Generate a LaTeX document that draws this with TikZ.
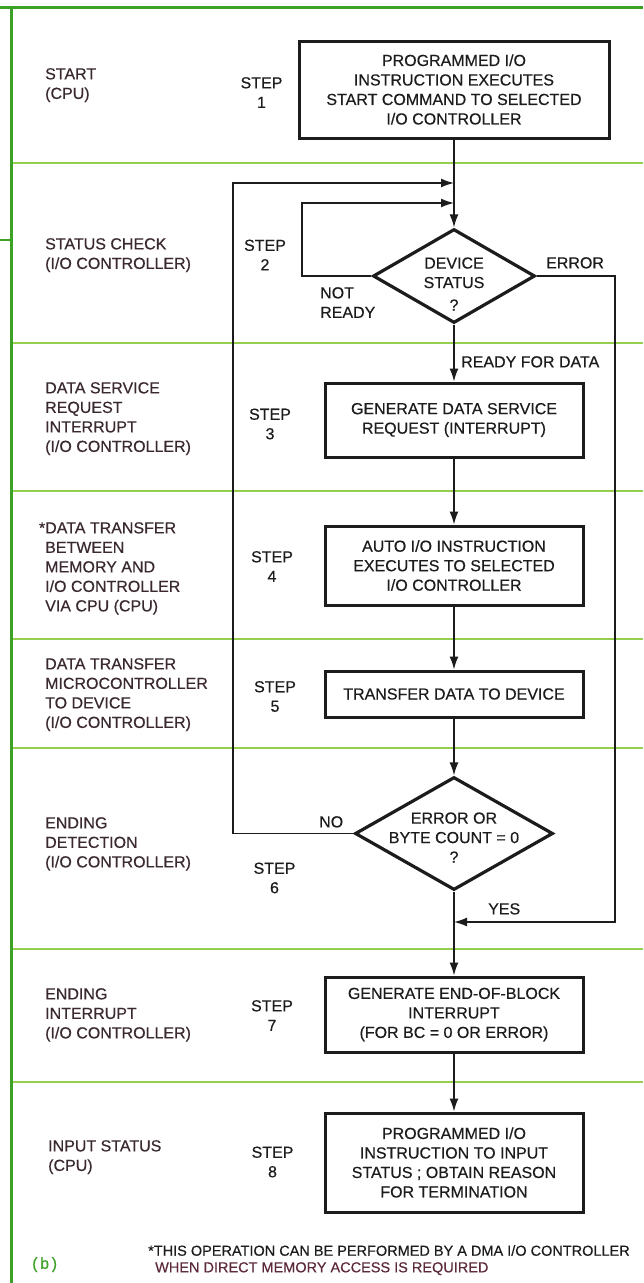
\documentclass[tikz,border=0pt]{standalone}
\usepackage{fontspec}
\setmainfont{Liberation Sans}[FakeBold=0.4]
\usetikzlibrary{shapes.geometric,arrows.meta}
\definecolor{frame}{RGB}{60,162,38}
\definecolor{sepgreen}{RGB}{150,206,80}
\definecolor{lbl}{RGB}{58,42,48}
\definecolor{ink}{RGB}{28,28,28}
\definecolor{foottwo}{RGB}{92,42,58}
\begin{document}
\begin{tikzpicture}[x=1pt,y=-1pt,
  every node/.style={font=\fontsize{16}{19.5}\selectfont, inner sep=0pt, text=ink},
  stepbox/.style={draw=ink, line width=3pt, rectangle, align=center, minimum width=258pt},
  decis/.style={draw=ink, line width=3.2pt, diamond, inner sep=0pt},
  conn/.style={draw=ink, line width=1.5pt},
  arr/.style={conn, -{Latex[length=13pt,width=9pt]}},
  lefttext/.style={anchor=north west, align=left, text=lbl},
  steplbl/.style={align=center},
  lab/.style={anchor=north west, align=left},
  gsep/.style={draw=sepgreen, line width=1.6pt},
  foot/.style={anchor=north west, font=\fontsize{14.5}{17}\selectfont},
]
\fill[white] (0,0) rectangle (643,1283);
\useasboundingbox (0,0) rectangle (643,1283);

% green frame and separators
\foreach \yy in {163,343,491,639,748,949,1082} \draw[gsep] (11,\yy) -- (643,\yy);
\draw[frame, line width=3pt] (0,7) -- (643,7);
\draw[frame, line width=3pt] (11,5.5) -- (11,1283);
\draw[frame, line width=2pt] (0,240) -- (11,240);

% process boxes
\node[stepbox, minimum width=310pt, minimum height=97pt] (b1) at (454,89.5)
  {PROGRAMMED I/O\\INSTRUCTION EXECUTES\\START COMMAND TO SELECTED\\I/O CONTROLLER};
\node[stepbox, minimum height=74pt] (b3) at (454,420)
  {GENERATE DATA SERVICE\\REQUEST (INTERRUPT)};
\node[stepbox, minimum height=79pt] (b4) at (454,565.5)
  {AUTO I/O INSTRUCTION\\EXECUTES TO SELECTED\\I/O CONTROLLER};
\node[stepbox, minimum height=46pt] (b5) at (454,694)
  {TRANSFER DATA TO DEVICE};
\node[stepbox, minimum height=75pt] (b7) at (454,1014.5)
  {GENERATE END-OF-BLOCK\\INTERRUPT\\(FOR BC = 0 OR ERROR)};
\node[stepbox, minimum height=99pt] (b8) at (454,1162.5)
  {PROGRAMMED I/O\\INSTRUCTION TO INPUT\\STATUS ; OBTAIN REASON\\FOR TERMINATION};

% decisions
\node[decis, minimum width=162pt, minimum height=94pt] (d1) at (454,276) {};
\node[align=center] (d1t) at (454,284) {DEVICE\\STATUS\\[3pt]?};
\node[decis, minimum width=198pt, minimum height=113pt] (d2) at (454,833.5) {};
\node[align=center] (d2t) at (454,837.5) {ERROR OR\\BYTE COUNT = 0\\?};

% junction points
\coordinate (j1) at (454,183);
\coordinate (j2) at (454,203);
\coordinate (j3) at (454,922);
\coordinate (l1) at (233,183);
\coordinate (l2) at (302,203);
\coordinate (r1) at (615,922);

% connectors
\draw[arr] (b1.south) -- (d1.north);
\draw[arr] (d2.west) -| (l1) -- (j1);
\draw[arr] (d1.west) -| (l2) -- (j2);
\draw[arr] (d1.east) -| (r1) -- (j3);
\draw[arr] (d1.south) -- (b3.north);
\draw[arr] (b3.south) -- (b4.north);
\draw[arr] (b4.south) -- (b5.north);
\draw[arr] (b5.south) -- (d2.north);
\draw[arr] (d2.south) -- (b7.north);
\draw[arr] (b7.south) -- (b8.north);

% connector labels
\node[lab] (nr) at (320,287) {NOT\\READY};
\node[lab] (err) at (546,257) {ERROR};
\node[lab] (rfd) at (461,356) {READY FOR DATA};
\node[lab] (no) at (319,816) {NO};
\node[lab] (yes) at (488,903) {YES};

% left column
\node[lefttext] (t1) at (45,68) {START\\(CPU)};
\node[lefttext] (t2) at (45,238) {STATUS CHECK\\(I/O CONTROLLER)};
\node[lefttext] (t3) at (45,382) {DATA SERVICE\\REQUEST\\INTERRUPT\\(I/O CONTROLLER)};
\node[lefttext] (t4) at (45,522) {\llap{*}DATA TRANSFER\\BETWEEN\\MEMORY AND\\I/O CONTROLLER\\VIA CPU (CPU)};
\node[lefttext] (t5) at (45,658) {DATA TRANSFER\\MICROCONTROLLER\\TO DEVICE\\(I/O CONTROLLER)};
\node[lefttext] (t6) at (45,817) {ENDING\\DETECTION\\(I/O CONTROLLER)};
\node[lefttext] (t7) at (45,988) {ENDING\\INTERRUPT\\(I/O CONTROLLER)};
\node[lefttext] (t8) at (48,1140) {INPUT STATUS\\(CPU)};

% step labels
\node[steplbl] (s1) at (261.5,92.5) {STEP\\1};
\node[steplbl] (s2) at (265,255) {STEP\\2};
\node[steplbl] (s3) at (270,424) {STEP\\3};
\node[steplbl] (s4) at (272,566.5) {STEP\\4};
\node[steplbl] (s5) at (275,696.5) {STEP\\5};
\node[steplbl] (s6) at (274.5,878) {STEP\\6};
\node[steplbl] (s7) at (272,1015.5) {STEP\\7};
\node[steplbl] (s8) at (272.5,1162) {STEP\\8};

% footnote
\node[anchor=north west, text=frame] (fig) at (32,1257) {(\,b\,)};
\node[foot] (f1) at (148,1245) {*THIS OPERATION CAN BE PERFORMED BY A DMA I/O CONTROLLER};
\node[foot, text=foottwo] (f2) at (155,1262) {WHEN DIRECT MEMORY ACCESS IS REQUIRED};
\end{tikzpicture}
\end{document}
